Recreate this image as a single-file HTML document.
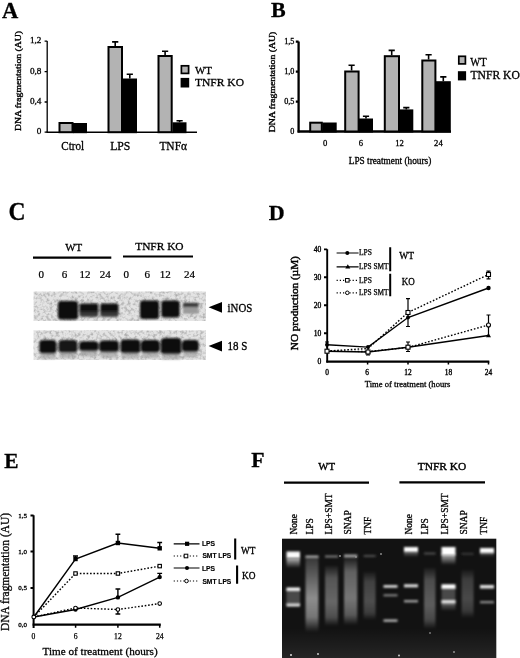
<!DOCTYPE html>
<html><head><meta charset="utf-8">
<style>
html,body{margin:0;padding:0;background:#fff;width:520px;height:658px;overflow:hidden}
svg{display:block;filter:grayscale(1) blur(0.3px)}
text{font-family:"Liberation Serif",serif;fill:#000;stroke:#000;stroke-width:0.3px}
.sans,.sans text,text.sans{font-family:"Liberation Sans",sans-serif}
.b{font-weight:bold}
</style></head><body>
<svg width="520" height="658" viewBox="0 0 520 658">
<defs>
<filter id="noise" x="0" y="0" width="100%" height="100%"><feTurbulence type="fractalNoise" baseFrequency="0.32" numOctaves="2" seed="7" result="n"/><feColorMatrix in="n" type="matrix" values="0 0 0 0 0  0 0 0 0 0  0 0 0 0 0  0.6 0 0 0 -0.26"/><feComposite in2="SourceGraphic" operator="in"/></filter>
<filter id="bl05" x="-50%" y="-50%" width="200%" height="200%"><feGaussianBlur stdDeviation="0.6"/></filter>
<filter id="bl1" x="-50%" y="-50%" width="200%" height="200%"><feGaussianBlur stdDeviation="1.1"/></filter>
<filter id="bl2" x="-50%" y="-50%" width="200%" height="200%"><feGaussianBlur stdDeviation="2"/></filter>
<linearGradient id="smLPS" x1="0" y1="0" x2="0" y2="1">
<stop offset="0" stop-color="#fff" stop-opacity="0.15"/><stop offset="0.3" stop-color="#fff" stop-opacity="0.35"/><stop offset="0.55" stop-color="#fff" stop-opacity="0.52"/><stop offset="0.8" stop-color="#fff" stop-opacity="0.42"/><stop offset="1" stop-color="#fff" stop-opacity="0"/>
</linearGradient>
<linearGradient id="smMid" x1="0" y1="0" x2="0" y2="1">
<stop offset="0" stop-color="#fff" stop-opacity="0.05"/><stop offset="0.2" stop-color="#fff" stop-opacity="0.33"/><stop offset="0.6" stop-color="#fff" stop-opacity="0.42"/><stop offset="0.85" stop-color="#fff" stop-opacity="0.3"/><stop offset="1" stop-color="#fff" stop-opacity="0"/>
</linearGradient>
<linearGradient id="glowDn" x1="0" y1="0" x2="0" y2="1">
<stop offset="0" stop-color="#fff" stop-opacity="0.7"/><stop offset="1" stop-color="#fff" stop-opacity="0"/>
</linearGradient>
<linearGradient id="bandC" x1="0" y1="0" x2="0" y2="1">
<stop offset="0" stop-color="#0a0a0a"/><stop offset="0.5" stop-color="#121212"/><stop offset="0.68" stop-color="#303030"/><stop offset="1" stop-color="#4a4a4a"/>
</linearGradient>
</defs>
<rect width="520" height="658" fill="#fff"/>

<text x="2" y="18" font-size="22.5" class="b">A</text>
<text transform="translate(21.4,81) rotate(-90) scale(1,0.76)" font-size="9.8" text-anchor="middle" textLength="100" lengthAdjust="spacingAndGlyphs" style="stroke-width:0.45px">DNA fragmentation (AU)</text>
<text x="41.4" y="43.400000000000006" font-size="9.2" text-anchor="end">1,2</text>
<text x="41.4" y="73.8" font-size="9.2" text-anchor="end">0,8</text>
<text x="41.4" y="104.2" font-size="9.2" text-anchor="end">0,4</text>
<text x="41.4" y="134.39999999999998" font-size="9.2" text-anchor="end">0</text>
<path d="M47.2 41V132.7M44.6 41.2H47.2M44.6 71.6H47.2M44.6 102H47.2M44.6 132.2H47.2" stroke="#000" stroke-width="1.3" fill="none"/>
<path d="M46.5 132.2H197" stroke="#000" stroke-width="1.6"/>
<rect x="59.50" y="123.00" width="13.00" height="9.20" fill="#b3b3b3" stroke="#000" stroke-width="2"/>
<rect x="74.00" y="124.00" width="12.00" height="8.20" fill="#000" stroke="#000" stroke-width="2"/>
<rect x="108.50" y="47.00" width="13.50" height="85.20" fill="#b3b3b3" stroke="#000" stroke-width="2"/>
<rect x="124.00" y="79.50" width="12.00" height="52.70" fill="#000" stroke="#000" stroke-width="2"/>
<rect x="158.50" y="56.00" width="13.20" height="76.20" fill="#b3b3b3" stroke="#000" stroke-width="2"/>
<rect x="173.50" y="123.30" width="12.00" height="8.90" fill="#000" stroke="#000" stroke-width="2"/>
<path d="M115.2 46V41.9M112.10 41.9H118.30" stroke="#000" stroke-width="1.6" fill="none"/>
<path d="M129.8 78.5V74.2M126.70 74.2H132.90" stroke="#000" stroke-width="1.6" fill="none"/>
<path d="M165.1 55V51.2M162.00 51.2H168.20" stroke="#000" stroke-width="1.6" fill="none"/>
<path d="M179.6 122.3V120.8M176.50 120.8H182.70" stroke="#000" stroke-width="1.6" fill="none"/>
<text x="61.3" y="150.2" font-size="12" textLength="22.8" lengthAdjust="spacingAndGlyphs">Ctrol</text>
<text x="110.2" y="150.2" font-size="12" textLength="20.2" lengthAdjust="spacingAndGlyphs">LPS</text>
<text x="159.4" y="150.2" font-size="12" textLength="27.6" lengthAdjust="spacingAndGlyphs">TNFα</text>
<rect x="181.4" y="65.8" width="7.2" height="7.6" fill="#b3b3b3" stroke="#000" stroke-width="1.7"/>
<rect x="180.6" y="77.9" width="8.6" height="9.6" fill="#000"/>
<text x="195" y="73.6" font-size="11" textLength="17" lengthAdjust="spacingAndGlyphs">WT</text>
<text x="195" y="86.2" font-size="11.3" textLength="49" lengthAdjust="spacingAndGlyphs">TNFR KO</text>
<text x="271" y="16.5" font-size="22" class="b">B</text>
<text transform="translate(274.6,82) rotate(-90) scale(1,0.76)" font-size="9.9" text-anchor="middle" textLength="100.5" lengthAdjust="spacingAndGlyphs" style="stroke-width:0.45px">DNA fragmentation (AU)</text>
<text x="294.4" y="44.300000000000004" font-size="8.2" text-anchor="end">1,5</text>
<text x="294.4" y="74.19999999999999" font-size="8.2" text-anchor="end">1,0</text>
<text x="294.4" y="104.19999999999999" font-size="8.2" text-anchor="end">0,5</text>
<text x="294.4" y="134.0" font-size="8.2" text-anchor="end">0</text>
<path d="M298.6 41.5V132.5M295.8 41.7H298.6M295.8 71.6H298.6M295.8 101.6H298.6" stroke="#000" stroke-width="2.3" fill="none"/>
<path d="M297.6 131.5H451" stroke="#000" stroke-width="2.3"/>
<rect x="310.20" y="122.70" width="11.60" height="8.80" fill="#b3b3b3" stroke="#000" stroke-width="2"/>
<rect x="323.20" y="123.50" width="12.50" height="8.00" fill="#000" stroke="#000" stroke-width="2"/>
<rect x="345.20" y="71.50" width="13.40" height="60.00" fill="#b3b3b3" stroke="#000" stroke-width="2"/>
<rect x="360.00" y="119.50" width="12.00" height="12.00" fill="#000" stroke="#000" stroke-width="2"/>
<rect x="384.80" y="56.20" width="14.20" height="75.30" fill="#b3b3b3" stroke="#000" stroke-width="2"/>
<rect x="400.40" y="110.40" width="11.90" height="21.10" fill="#000" stroke="#000" stroke-width="2"/>
<rect x="422.30" y="60.50" width="13.10" height="71.00" fill="#b3b3b3" stroke="#000" stroke-width="2"/>
<rect x="436.80" y="82.20" width="13.00" height="49.30" fill="#000" stroke="#000" stroke-width="2"/>
<path d="M351.6 70.5V65.3M348.50 65.3H354.70" stroke="#000" stroke-width="1.6" fill="none"/>
<path d="M366 118.5V116.3M362.90 116.3H369.10" stroke="#000" stroke-width="1.6" fill="none"/>
<path d="M391.7 55.2V50.4M388.60 50.4H394.80" stroke="#000" stroke-width="1.6" fill="none"/>
<path d="M406.3 109.4V107.6M403.20 107.6H409.40" stroke="#000" stroke-width="1.6" fill="none"/>
<path d="M428.6 59.5V54.7M425.50 54.7H431.70" stroke="#000" stroke-width="1.6" fill="none"/>
<path d="M443.3 81.2V76.9M440.20 76.9H446.40" stroke="#000" stroke-width="1.6" fill="none"/>
<text x="325.2" y="146.4" font-size="8.6" text-anchor="middle">0</text>
<text x="361" y="146.4" font-size="8.6" text-anchor="middle">6</text>
<text x="399.6" y="146.4" font-size="8.6" text-anchor="middle">12</text>
<text x="438.4" y="146.4" font-size="8.6" text-anchor="middle">24</text>
<text x="348.75" y="163.9" font-size="9.3" textLength="82.5" lengthAdjust="spacingAndGlyphs">LPS treatment (hours)</text>
<rect x="458.8" y="56.3" width="6.6" height="7.6" fill="#b3b3b3" stroke="#000" stroke-width="1.7"/>
<rect x="457.9" y="71.2" width="8.2" height="9.2" fill="#000"/>
<text x="470.2" y="65.6" font-size="11.5" textLength="16.4" lengthAdjust="spacingAndGlyphs">WT</text>
<text x="470.5" y="78.7" font-size="11.5" textLength="49.3" lengthAdjust="spacingAndGlyphs">TNFR KO</text>
<text x="8.4" y="220" font-size="24.6" textLength="17" lengthAdjust="spacingAndGlyphs" class="b">C</text>
<text x="65.3" y="250.7" font-size="11.2" textLength="17" lengthAdjust="spacingAndGlyphs" style="stroke-width:0.3px">WT</text>
<text x="135.2" y="250.4" font-size="11.4" textLength="48.4" lengthAdjust="spacingAndGlyphs" style="stroke-width:0.3px">TNFR KO</text>
<path d="M33 257.6H111.3M123 256.5H193" stroke="#000" stroke-width="2.1"/>
<text x="41.3" y="278.2" font-size="11" text-anchor="middle" style="stroke-width:0.22px">0</text>
<text x="64.5" y="278.2" font-size="11" text-anchor="middle" style="stroke-width:0.22px">6</text>
<text x="85" y="278.2" font-size="11" text-anchor="middle" style="stroke-width:0.22px">12</text>
<text x="105.2" y="278.2" font-size="11" text-anchor="middle" style="stroke-width:0.22px">24</text>
<text x="126.3" y="278.2" font-size="11" text-anchor="middle" style="stroke-width:0.22px">0</text>
<text x="147.2" y="278.2" font-size="11" text-anchor="middle" style="stroke-width:0.22px">6</text>
<text x="165.2" y="278.2" font-size="11" text-anchor="middle" style="stroke-width:0.22px">12</text>
<text x="189.6" y="278.2" font-size="11" text-anchor="middle" style="stroke-width:0.22px">24</text>
<rect x="33.6" y="291.5" width="172.4" height="29.4" fill="#e3e3e3"/>
<rect x="33.6" y="330.3" width="172.4" height="29.5" fill="#e3e3e3"/>
<rect x="33.6" y="291.5" width="172.4" height="29.4" fill="#000" filter="url(#noise)"/>
<rect x="33.6" y="330.3" width="172.4" height="29.5" fill="#000" filter="url(#noise)"/>
<g filter="url(#bl1)">
<rect x="58" y="301" width="20" height="18.5" rx="3" fill="#0a0a0a"/>
<rect x="79.5" y="303.5" width="18.8" height="13.5" rx="2" fill="url(#bandC)"/>
<rect x="100.3" y="303.5" width="18.2" height="13.5" rx="2" fill="url(#bandC)"/>
<rect x="140" y="300.5" width="19" height="18.5" rx="3" fill="#0a0a0a"/>
<rect x="161.3" y="300.5" width="18.4" height="17" rx="3" fill="#0c0c0c"/>
<rect x="183" y="302.8" width="15.5" height="4.5" fill="#3a3a3a"/>
<rect x="183" y="307.3" width="15.5" height="6.5" fill="#9a9a9a"/>
<rect x="39.3" y="340" width="17.2" height="14.0" rx="4" fill="#0a0a0a"/>
<rect x="40.3" y="353" width="15.2" height="6" fill="#9a9a9a" opacity="0.6"/>
<rect x="58.5" y="340" width="19.0" height="13.0" rx="4" fill="#121212"/>
<rect x="59.5" y="352" width="17.0" height="6" fill="#9a9a9a" opacity="0.6"/>
<rect x="79.2" y="341.3" width="19.3" height="10.2" rx="4" fill="#0d0d0d"/>
<rect x="80.2" y="350.5" width="17.3" height="6" fill="#9a9a9a" opacity="0.6"/>
<rect x="99.3" y="340.5" width="19.5" height="12.0" rx="4" fill="#0d0d0d"/>
<rect x="100.3" y="351.5" width="17.5" height="6" fill="#9a9a9a" opacity="0.6"/>
<rect x="120.5" y="339.5" width="19.8" height="14.0" rx="4" fill="#0a0a0a"/>
<rect x="121.5" y="352.5" width="17.8" height="6" fill="#9a9a9a" opacity="0.6"/>
<rect x="141" y="340" width="18.8" height="13.0" rx="4" fill="#0d0d0d"/>
<rect x="142" y="352" width="16.8" height="6" fill="#9a9a9a" opacity="0.6"/>
<rect x="160.8" y="338" width="20.5" height="16.5" rx="4" fill="#0a0a0a"/>
<rect x="161.8" y="353.5" width="18.5" height="6" fill="#9a9a9a" opacity="0.6"/>
<rect x="182" y="340" width="16.8" height="12.3" rx="4" fill="#0d0d0d"/>
<rect x="183" y="351.3" width="14.8" height="6" fill="#9a9a9a" opacity="0.6"/>
</g>
<path d="M208.6 307.3L222 302V312.7Z" fill="#000"/>
<path d="M208.6 346.1L222 340.7V351.6Z" fill="#000"/>
<text x="227.6" y="311.8" font-size="12" textLength="24.7" lengthAdjust="spacingAndGlyphs">iNOS</text>
<text x="227.6" y="350.4" font-size="12" textLength="19.8" lengthAdjust="spacingAndGlyphs">18 S</text>
<text x="268.7" y="219.5" font-size="22" class="b">D</text>
<text transform="translate(297.8,303.2) rotate(-90) scale(1,0.85)" font-size="11.2" text-anchor="middle" textLength="94" lengthAdjust="spacingAndGlyphs" style="stroke-width:0.5px">NO production (µM)</text>
<text x="321.3" y="251.70000000000002" font-size="7.6" text-anchor="end" style="stroke-width:0.35px">40</text>
<text x="321.3" y="279.6" font-size="7.6" text-anchor="end" style="stroke-width:0.35px">30</text>
<text x="321.3" y="307.5" font-size="7.6" text-anchor="end" style="stroke-width:0.35px">20</text>
<text x="321.3" y="335.5" font-size="7.6" text-anchor="end" style="stroke-width:0.35px">10</text>
<text x="321.3" y="363.5" font-size="7.6" text-anchor="end" style="stroke-width:0.35px">0</text>
<path d="M327.2 249.2V362.5M324 249.4H327.2M324 277.3H327.2M324 305.2H327.2M324 333.2H327.2" stroke="#000" stroke-width="1.9" fill="none"/>
<path d="M326.3 361.6H489.3" stroke="#000" stroke-width="2.1"/>
<path d="M367.6 361.6V364.6M408 361.6V364.6M448.4 361.6V364.6M488.5 361.6V364.6" stroke="#000" stroke-width="1.5"/>
<text x="327" y="375" font-size="7.4" text-anchor="middle" style="stroke-width:0.35px">0</text>
<text x="367.2" y="375" font-size="7.4" text-anchor="middle" style="stroke-width:0.35px">6</text>
<text x="408" y="375" font-size="7.4" text-anchor="middle" style="stroke-width:0.35px">12</text>
<text x="448.5" y="375" font-size="7.4" text-anchor="middle" style="stroke-width:0.35px">18</text>
<text x="488.5" y="375" font-size="7.4" text-anchor="middle" style="stroke-width:0.35px">24</text>
<text x="364.8" y="386.6" font-size="8.8" textLength="85.6" lengthAdjust="spacingAndGlyphs">Time of treatment (hours</text>
<g stroke="#000" stroke-width="1.2" fill="none">
<path d="M336.6 253H358.6M336.6 266.8H358.6"/>
<path d="M336.6 280.3H358.6M336.6 292.8H358.6" stroke-dasharray="1.2 2"/>
</g>
<circle cx="347.3" cy="253" r="2" fill="#000"/>
<path d="M347.8 264.3L350.3 268.6H345.3Z" fill="#000"/>
<rect x="345.5" y="278.5" width="3.6" height="3.6" fill="#fff" stroke="#000" stroke-width="1"/>
<circle cx="347.3" cy="292.8" r="1.8" fill="#fff" stroke="#000" stroke-width="1"/>
<text x="359" y="255.3" font-size="7.3" textLength="12.9" lengthAdjust="spacingAndGlyphs" style="stroke-width:0.25px">LPS</text>
<text x="359" y="269.1" font-size="7.3" textLength="29.5" lengthAdjust="spacingAndGlyphs" style="stroke-width:0.25px">LPS SMT</text>
<text x="359" y="282.6" font-size="7.3" textLength="12.9" lengthAdjust="spacingAndGlyphs" style="stroke-width:0.25px">LPS</text>
<text x="359" y="295.1" font-size="7.3" textLength="29.5" lengthAdjust="spacingAndGlyphs" style="stroke-width:0.25px">LPS SMT</text>
<path d="M390.2 247.3V271.2M390.2 273.7V296.2" stroke="#000" stroke-width="2"/>
<text x="399.2" y="258.7" font-size="10" textLength="14.8" lengthAdjust="spacingAndGlyphs">WT</text>
<text x="401.8" y="284.7" font-size="10" textLength="13" lengthAdjust="spacingAndGlyphs">KO</text>
<g stroke="#000" stroke-width="1.4" fill="none">
<path d="M327 344.8L368 347.1L408 317.5L488.5 288"/>
<path d="M327 351.2L368 352L408 347.2L488.5 335.5"/>
<path d="M327 351L368 348.5L408 312.5L488.5 274.5" stroke-dasharray="1.6 1.8"/>
<path d="M327 351.2L368 351.5L408 347.5L488.5 325" stroke-dasharray="1.6 1.8"/>
<path d="M408 298.7V326.5M406 298.7H410M406 326.5H410" stroke-width="1.2"/>
<path d="M408 342V351.5M406 342H410M406 351.5H410" stroke-width="1.2"/>
<path d="M488.5 271.2V278.8M486.5 271.2H490.5M486.5 278.8H490.5" stroke-width="1.2"/>
<path d="M488.5 315V335M486.5 315H490.5" stroke-width="1.2"/>
<path d="M327 342V348M325 342H329" stroke-width="1.2"/>
<path d="M368 349V355M366 355H370" stroke-width="1.2"/>
</g>
<g fill="#000">
<circle cx="327" cy="344.8" r="2"/><circle cx="368" cy="347.1" r="2"/><circle cx="408" cy="317.5" r="2"/><circle cx="488.5" cy="288" r="2.2"/>
<path d="M368 349.5L370.5 353.7H365.5ZM408 344.7L410.5 349H405.5ZM488.5 333L491 337.3H486Z"/>
</g>
<g fill="#fff" stroke="#000" stroke-width="1.1">
<rect x="325" y="349.2" width="4" height="4"/><rect x="366" y="350" width="4" height="4"/><rect x="406" y="310.5" width="4" height="4"/><rect x="486.5" y="272.5" width="4" height="4"/>
<rect x="406" y="345.2" width="4" height="4"/>
<circle cx="488.5" cy="325" r="2"/>
</g>
<text x="4.3" y="468" font-size="22" textLength="14.3" lengthAdjust="spacingAndGlyphs" class="b">E</text>
<text transform="translate(8.6,572) rotate(-90)" font-size="11.7" text-anchor="middle" textLength="118" lengthAdjust="spacingAndGlyphs">DNA fragmentation (AU)</text>
<text x="27.1" y="517.7" font-size="7" text-anchor="end">1,5</text>
<text x="27.1" y="553.7" font-size="7" text-anchor="end">1,0</text>
<text x="27.1" y="590.1" font-size="7" text-anchor="end">0,5</text>
<text x="27.1" y="626.5" font-size="7" text-anchor="end">0,0</text>
<path d="M33.6 515.3V628M30.5 515.6H33.6M30.5 551.6H33.6M30.5 588H33.6" stroke="#000" stroke-width="2" fill="none"/>
<path d="M32.6 624.6H160.8" stroke="#000" stroke-width="2.3"/>
<path d="M75.6 624.6V627.8M117.9 624.6V627.8M159.7 624.6V627.8" stroke="#000" stroke-width="1.5"/>
<text x="33.5" y="639" font-size="7.6" text-anchor="middle" style="stroke-width:0.25px">0</text>
<text x="75.7" y="639" font-size="7.6" text-anchor="middle" style="stroke-width:0.25px">6</text>
<text x="117.9" y="639" font-size="7.6" text-anchor="middle" style="stroke-width:0.25px">12</text>
<text x="159.7" y="639" font-size="7.6" text-anchor="middle" style="stroke-width:0.25px">24</text>
<text x="42.6" y="655.4" font-size="11.4" textLength="115" lengthAdjust="spacingAndGlyphs">Time of treatment (hours)</text>
<g stroke="#000" stroke-width="1.4" fill="none">
<path d="M33.8 617L75.5 559L117.9 543L159.7 548.3"/>
<path d="M33.8 617L75.5 609.5L117.9 597.4L159.7 577.1"/>
<path d="M33.8 617L75.5 573.5L117.9 573.5L159.7 566.1" stroke-dasharray="1.6 1.8"/>
<path d="M33.8 617L75.5 608L117.9 609.5L159.7 603.6" stroke-dasharray="1.6 1.8"/>
<path d="M117.9 543V534.3M115.5 534.3H120.3"/>
<path d="M75.5 559V556M73 556H78"/>
<path d="M159.7 548.3V542.5M157.3 542.5H162.1"/>
<path d="M117.9 597.4V589M115.5 589H120.3"/>
<path d="M159.7 577.1V573.4M157.3 573.4H162.1"/>
<path d="M117.9 609.5V614M115.5 614H120.3"/>
</g>
<g fill="#000">
<rect x="73.3" y="556.8" width="4.4" height="4.4"/><rect x="115.7" y="540.8" width="4.4" height="4.4"/><rect x="157.5" y="546.1" width="4.4" height="4.4"/>
<circle cx="75.5" cy="609.5" r="2.2"/><circle cx="117.9" cy="597.4" r="2.2"/><circle cx="159.7" cy="577.1" r="2.2"/>
</g>
<g fill="#fff" stroke="#000" stroke-width="1.1">
<rect x="73.8" y="571.8" width="3.4" height="3.4"/><rect x="116.2" y="571.8" width="3.4" height="3.4"/><rect x="158" y="564.4" width="3.4" height="3.4"/>
<circle cx="75.5" cy="608" r="1.8"/><circle cx="117.9" cy="609.5" r="1.8"/><circle cx="159.7" cy="603.6" r="1.8"/>
<circle cx="33.8" cy="617" r="1.9"/>
</g>
<g stroke="#000" stroke-width="1.2" fill="none">
<path d="M173.7 543.8H199.5M173.7 568H199.5"/>
<path d="M173.7 556H199M173.7 581H199" stroke-dasharray="1.2 2"/>
</g>
<rect x="185" y="541.7" width="4.2" height="4.2" fill="#000"/>
<circle cx="187" cy="568" r="2" fill="#000"/>
<rect x="184.2" y="554.2" width="3.6" height="3.6" fill="#fff" stroke="#000" stroke-width="1"/>
<circle cx="186.5" cy="581" r="1.8" fill="#fff" stroke="#000" stroke-width="1"/>
<text x="201.9" y="546.3" font-size="7" textLength="13.2" lengthAdjust="spacingAndGlyphs" class="sans b" style="stroke-width:0.15px">LPS</text>
<text x="202.4" y="558.4" font-size="7" textLength="28.9" lengthAdjust="spacingAndGlyphs" class="sans b" style="stroke-width:0.15px">SMT LPS</text>
<text x="201.9" y="570.6" font-size="7" textLength="13.2" lengthAdjust="spacingAndGlyphs" class="sans b" style="stroke-width:0.15px">LPS</text>
<text x="202.4" y="583.6" font-size="7" textLength="28.9" lengthAdjust="spacingAndGlyphs" class="sans b" style="stroke-width:0.15px">SMT LPS</text>
<path d="M235.2 538.6V559.4M237.1 565.6V583.8" stroke="#000" stroke-width="2.1"/>
<text x="241" y="553.6" font-size="9.5" textLength="14.4" lengthAdjust="spacingAndGlyphs">WT</text>
<text x="241.9" y="579.4" font-size="9.5" textLength="13.5" lengthAdjust="spacingAndGlyphs">KO</text>
<text x="251.2" y="467.4" font-size="21.5" textLength="13.3" lengthAdjust="spacingAndGlyphs" class="b">F</text>
<text x="318.3" y="469.5" font-size="11" textLength="16.7" lengthAdjust="spacingAndGlyphs" style="stroke-width:0.4px">WT</text>
<text x="417.7" y="469.6" font-size="11.3" textLength="48.5" lengthAdjust="spacingAndGlyphs" style="stroke-width:0.4px">TNFR KO</text>
<path d="M284 482.7H369M399.4 482.3H485" stroke="#000" stroke-width="2.3"/>
<text transform="translate(297.2,534.6) rotate(-90)" font-size="9.5">None</text>
<text transform="translate(313.2,534.6) rotate(-90)" font-size="9.5">LPS</text>
<text transform="translate(331.8,534.6) rotate(-90)" font-size="9.5">LPS+SMT</text>
<text transform="translate(350.6,534.6) rotate(-90)" font-size="9.5">SNAP</text>
<text transform="translate(370.8,534.6) rotate(-90)" font-size="9.5">TNF</text>
<text transform="translate(411.5,534.6) rotate(-90)" font-size="9.5">None</text>
<text transform="translate(427.6,534.6) rotate(-90)" font-size="9.5">LPS</text>
<text transform="translate(447.8,534.6) rotate(-90)" font-size="9.5">LPS+SMT</text>
<text transform="translate(466.7,534.6) rotate(-90)" font-size="9.5">SNAP</text>
<text transform="translate(486.9,534.6) rotate(-90)" font-size="9.5">TNF</text>
<rect x="282" y="538.7" width="214.3" height="119.3" fill="#121212"/>
<linearGradient id="upG" x1="0" y1="0" x2="0" y2="1"><stop offset="0" stop-color="#fff" stop-opacity="0"/><stop offset="1" stop-color="#fff" stop-opacity="0.08"/></linearGradient>
<rect x="282" y="628" width="214.3" height="30" fill="url(#upG)"/>
<g fill="#ddd" filter="url(#bl05)"><circle cx="291" cy="655" r="1"/><circle cx="318" cy="654" r="0.9"/><circle cx="399" cy="655.5" r="0.9"/><circle cx="454" cy="652" r="0.8"/><circle cx="340" cy="556" r="0.8"/><circle cx="381" cy="554" r="0.8"/><circle cx="356" cy="557" r="0.7"/><circle cx="430" cy="633" r="0.7"/></g>
<g filter="url(#bl1)">
<rect x="286.5" y="558" width="13.5" height="10" fill="url(#glowDn)"/>
<rect x="286.5" y="589" width="13.5" height="16" fill="#4a4a4a"/>
<rect x="305.5" y="557" width="13" height="75" fill="url(#smLPS)"/>
<rect x="325" y="566" width="13" height="60" fill="url(#smMid)" opacity="0.85"/>
<rect x="344" y="558" width="13.3" height="67" fill="url(#smMid)"/>
<rect x="363.6" y="572" width="12" height="48" fill="url(#smMid)" opacity="0.6"/>
<rect x="424" y="568" width="11.5" height="61" fill="url(#smMid)" opacity="0.75"/>
<rect x="441.5" y="554" width="14" height="11" fill="url(#glowDn)"/>
<rect x="441.5" y="587" width="14" height="15" fill="#484848"/>
<rect x="441.5" y="603" width="14" height="8" fill="url(#glowDn)" opacity="0.5"/>
<rect x="461.6" y="570" width="12" height="48" fill="url(#smMid)" opacity="0.55"/>
<rect x="404" y="552" width="14" height="5" fill="url(#glowDn)" opacity="0.5"/>
<rect x="480" y="552" width="14" height="5" fill="url(#glowDn)" opacity="0.5"/>
</g>
<g filter="url(#bl1)">
<rect x="286.5" y="551.5" width="13.5" height="6.5" fill="#fafafa"/>
<rect x="286.5" y="587.5" width="13.5" height="3.5" fill="#f0f0f0"/>
<rect x="286.5" y="603.5" width="13.5" height="3" fill="#e0e0e0"/>
<rect x="305.5" y="555.5" width="13" height="2.5" fill="#a0a0a0"/>
<rect x="325" y="555.5" width="13" height="2" fill="#808080"/>
<rect x="344" y="554.5" width="13.3" height="3" fill="#a0a0a0"/>
<rect x="363.6" y="555" width="12" height="2" fill="#505050"/>
<rect x="383.5" y="585.2" width="14" height="2.4" fill="#f0f0f0"/>
<rect x="383.5" y="594.3" width="14" height="2" fill="#8a8a8a"/>
<rect x="383.5" y="619.5" width="14" height="2.2" fill="#c0c0c0"/>
<rect x="404" y="547" width="14" height="5" fill="#fafafa"/>
<rect x="404" y="584.3" width="14" height="3" fill="#e0e0e0"/>
<rect x="404" y="600" width="14" height="2.4" fill="#a0a0a0"/>
<rect x="424" y="552.5" width="11.5" height="2" fill="#505050"/>
<rect x="441.5" y="547" width="14" height="8" fill="#ffffff"/>
<rect x="441.5" y="584.3" width="14" height="4.5" fill="#ffffff"/>
<rect x="441.5" y="600" width="14" height="3.5" fill="#e0e0e0"/>
<rect x="461.6" y="553" width="12" height="1.6" fill="#404040"/>
<rect x="480" y="548" width="14" height="5" fill="#fafafa"/>
<rect x="480" y="585" width="14" height="3.5" fill="#e0e0e0"/>
<rect x="480" y="601" width="14" height="2.3" fill="#8a8a8a"/>
</g>
</svg>
</body></html>
